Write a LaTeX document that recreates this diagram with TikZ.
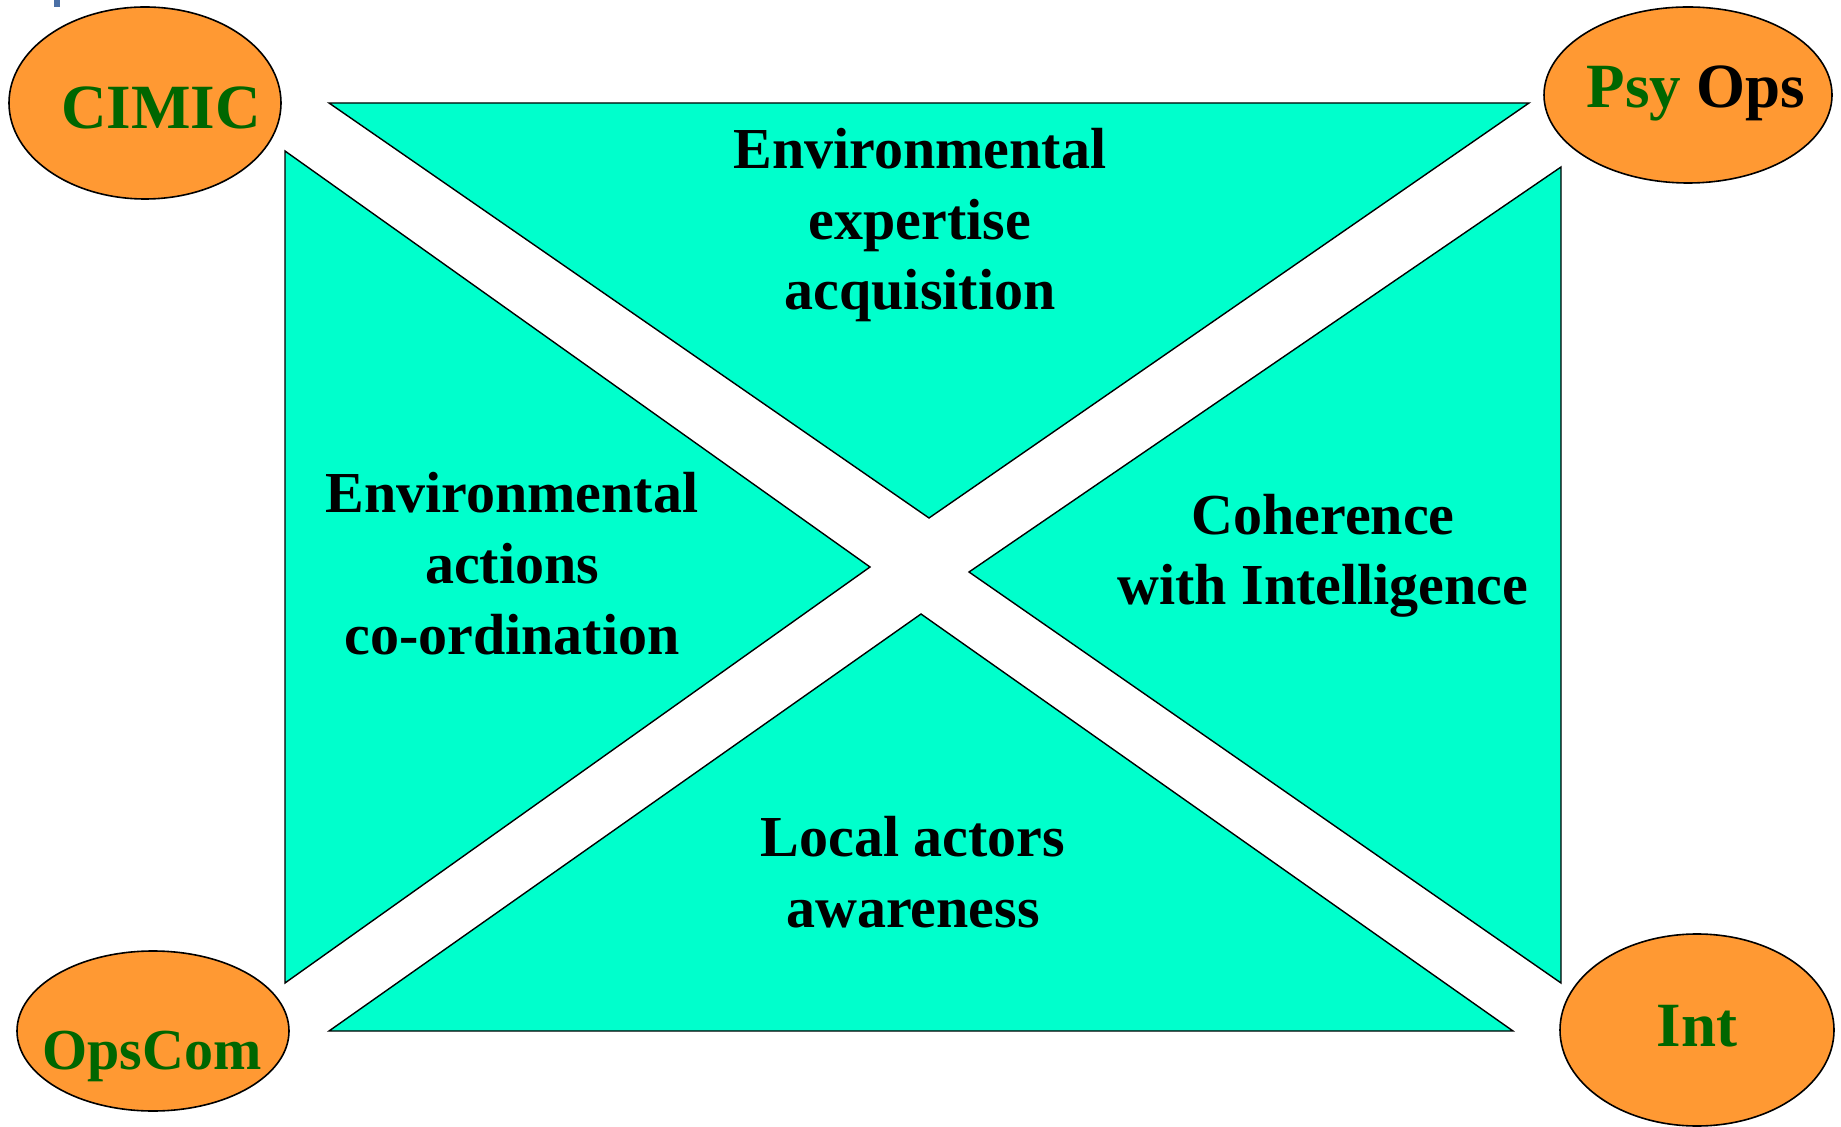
\documentclass[tikz,border=0pt]{standalone}
\usepackage{fontspec}
\setmainfont{Liberation Serif}
\usetikzlibrary{shapes, positioning}
\definecolor{wedgefill}{RGB}{0,255,204}
\definecolor{unitfill}{RGB}{255,153,51}
\definecolor{unitgreen}{RGB}{0,102,0}
\definecolor{slideblue}{RGB}{74,111,165}

\begin{document}
\begin{tikzpicture}[
    x=0.5pt, y=-0.5pt,
    wedge/.style={draw=black, fill=wedgefill, line width=0.7pt},
    unit/.style={ellipse, draw=black, fill=unitfill, line width=0.8pt, inner sep=0pt},
    unitname/.style={anchor=base, inner sep=0pt, text=unitgreen, font=\bfseries\fontsize{31.5}{36}\selectfont},
    task/.style={anchor=base, inner sep=0pt, align=center, font=\bfseries\fontsize{29}{35.25}\selectfont}
]
\useasboundingbox (0,0) rectangle (1841,1127);
\fill[slideblue] (54,0) rectangle (60,7.5);

\draw[wedge] (329,103) -- (1529,103) -- (929,518) -- cycle;
\draw[wedge] (285,151) -- (870,567) -- (285,983) -- cycle;
\draw[wedge] (1561,167) -- (1561,983) -- (969,572) -- cycle;
\draw[wedge] (921,614) -- (1513,1031) -- (329,1031) -- cycle;

\node [task] (expertise) at (920,310) {Environmental\\expertise\\acquisition};
\node [task] (actions) at (512,654) {Environmental\\actions\\co-ordination};
\node [task] (coherence) at (1323,605) {Coherence\\with Intelligence};
\node [task] (awareness) at (913,927) {Local actors\\awareness};

\node [unit, minimum width=136pt, minimum height=96pt] (cimic) at (145,103) {};
\node [unit, minimum width=144pt, minimum height=88pt] (psyops) at (1688,95) {};
\node [unit, minimum width=136pt, minimum height=80pt] (opscom) at (153,1031) {};
\node [unit, minimum width=137pt, minimum height=96pt] (int) at (1697,1030) {};

\node [unitname] (cimic name) at (161,129) {CIMIC};
\node [unitname] (psyops name) at (1696,108) {Psy \textcolor{black}{Ops}};
\node [unitname, font=\bfseries\fontsize{29}{34}\selectfont] (opscom name) at (152,1069) {OpsCom};
\node [unitname] (int name) at (1697,1046) {Int};
\end{tikzpicture}
\end{document}
